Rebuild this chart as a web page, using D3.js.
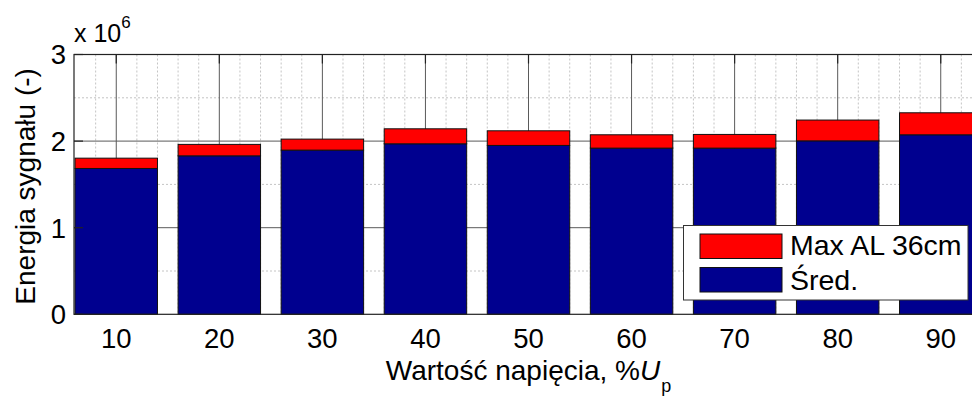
<!DOCTYPE html>
<html>
<head>
<meta charset="utf-8">
<script src="https://cdn.jsdelivr.net/npm/d3@7/dist/d3.min.js"></script>
<style>
  html, body { margin: 0; padding: 0; background: #fff; }
  svg { display: block; font-family: Arial, "Liberation Sans", sans-serif; }
</style>
</head>
<body>
<svg id="chart" width="972" height="396"></svg>
<script>
// Signal energy (×10^6) per voltage level, stacked: mean + extra for max AL 36cm
const categories = [10, 20, 30, 40, 50, 60, 70, 80, 90];
const sredValues = [1.684, 1.830, 1.896, 1.969, 1.950, 1.919, 1.919, 2.003, 2.073];
const maxExtraValues = [0.119, 0.132, 0.127, 0.173, 0.169, 0.154, 0.158, 0.240, 0.254];
const yTicks = [0, 1, 2, 3];
const yMinorTicks = [0.5, 1.5, 2.5];
const xMinorTicks = [8, 12, 14, 16, 18, 22, 24, 26, 28, 32, 34, 36, 38, 42, 44, 46, 48,
                     52, 54, 56, 58, 62, 64, 66, 68, 72, 74, 76, 78, 82, 84, 86, 88, 92];
const seriesNames = ["Max AL 36cm", "Śred."];
const seriesColors = { sred: "#00008f", max: "#ff0000" };

const svg = d3.select("#chart");
const W = 972, H = 396;
svg.append("rect").attr("width", W).attr("height", H).attr("fill", "#fff");

const plot = { left: 74, right: 983, top: 54.5, bottom: 314.3 };
const x = d3.scaleLinear().domain([5.9, 94.1]).range([plot.left, plot.right]);
const y = d3.scaleLinear().domain([0, 3]).range([plot.bottom, plot.top]);
const barHalf = 4; // bar width 0.8 of category spacing

const rows = categories.map((c, i) => ({ cat: c, sred: sredValues[i], max: maxExtraValues[i] }));
const stacked = d3.stack().keys(["sred", "max"])(rows);

const g = svg.append("g");

// minor grid (dotted)
g.selectAll(".xminor").data(xMinorTicks).join("line")
  .attr("x1", d => x(d)).attr("x2", d => x(d))
  .attr("y1", plot.top).attr("y2", plot.bottom)
  .attr("stroke", "#c4c4c4").attr("stroke-width", 1).attr("stroke-dasharray", "2,2");
g.selectAll(".yminor").data(yMinorTicks).join("line")
  .attr("x1", plot.left).attr("x2", plot.right)
  .attr("y1", d => y(d)).attr("y2", d => y(d))
  .attr("stroke", "#c4c4c4").attr("stroke-width", 1).attr("stroke-dasharray", "2,2");

// major grid (solid)
g.selectAll(".xmajor").data(categories).join("line")
  .attr("x1", d => x(d)).attr("x2", d => x(d))
  .attr("y1", plot.top).attr("y2", plot.bottom)
  .attr("stroke", "#5a5a5a").attr("stroke-width", 1);
g.selectAll(".ymajor").data(yTicks.slice(1, -1)).join("line")
  .attr("x1", plot.left).attr("x2", plot.right)
  .attr("y1", d => y(d)).attr("y2", d => y(d))
  .attr("stroke", "#5a5a5a").attr("stroke-width", 1);

// stacked bars
stacked.forEach(layer => {
  g.append("g").selectAll("rect").data(layer).join("rect")
    .attr("x", d => x(d.data.cat - barHalf))
    .attr("width", d => x(d.data.cat + barHalf) - x(d.data.cat - barHalf))
    .attr("y", d => y(d[1]))
    .attr("height", d => y(d[0]) - y(d[1]))
    .attr("fill", seriesColors[layer.key])
    .attr("stroke", "#111").attr("stroke-width", 1);
});

// axes frame
g.append("rect")
  .attr("x", plot.left).attr("y", plot.top)
  .attr("width", plot.right - plot.left).attr("height", plot.bottom - plot.top)
  .attr("fill", "none").attr("stroke", "#222").attr("stroke-width", 1.2);

// inward tick marks
const tickLen = 9;
g.selectAll(".xtickTop").data(categories).join("line")
  .attr("x1", d => x(d)).attr("x2", d => x(d))
  .attr("y1", plot.top).attr("y2", plot.top + tickLen)
  .attr("stroke", "#222").attr("stroke-width", 1.2);
g.selectAll(".ytickLeft").data(yTicks).join("line")
  .attr("x1", plot.left).attr("x2", plot.left + tickLen)
  .attr("y1", d => y(d)).attr("y2", d => y(d))
  .attr("stroke", "#222").attr("stroke-width", 1.2);

// tick labels
const fontSize = 27.5;
g.selectAll(".xlab").data(categories).join("text")
  .attr("x", d => x(d)).attr("y", 348)
  .attr("text-anchor", "middle").attr("font-size", fontSize).attr("fill", "#000")
  .text(d => d);
g.selectAll(".ylab").data(yTicks).join("text")
  .attr("x", 66).attr("y", d => y(d)).attr("dy", "0.36em")
  .attr("text-anchor", "end").attr("font-size", fontSize).attr("fill", "#000")
  .text(d => d);

// exponent label
const expo = g.append("text").attr("x", 74).attr("y", 42).attr("font-size", 25).attr("fill", "#000");
expo.append("tspan").text("x 10");
expo.append("tspan").attr("font-size", 17).attr("dy", -14).text("6");

// axis titles
g.append("text")
  .attr("transform", `translate(35,${(plot.top + plot.bottom) / 2 + 2}) rotate(-90)`)
  .attr("text-anchor", "middle").attr("font-size", 28).attr("fill", "#000")
  .text("Energia sygnału (-)");

const xt = g.append("text")
  .attr("x", (plot.left + plot.right) / 2).attr("y", 380)
  .attr("text-anchor", "middle").attr("font-size", 28).attr("fill", "#000");
xt.append("tspan").text("Wartość napięcia, %");
xt.append("tspan").attr("font-style", "italic").text("U");
xt.append("tspan").attr("font-size", 18).attr("dy", 12).attr("dx", 1).text("p");

// legend
const leg = g.append("g");
leg.append("rect")
  .attr("x", 683.5).attr("y", 225.5).attr("width", 284.5).attr("height", 74.5)
  .attr("fill", "#fff").attr("stroke", "#333").attr("stroke-width", 1);
const legItems = [
  { name: seriesNames[0], color: seriesColors.max, top: 234, base: 254.5 },
  { name: seriesNames[1], color: seriesColors.sred, top: 267.5, base: 289.5 }
];
legItems.forEach(it => {
  leg.append("rect")
    .attr("x", 700).attr("y", it.top).attr("width", 82).attr("height", 24.5)
    .attr("fill", it.color).attr("stroke", "#111").attr("stroke-width", 1);
  leg.append("text")
    .attr("x", 790).attr("y", it.base)
    .attr("font-size", 28.5).attr("fill", "#000")
    .text(it.name);
});
</script>
</body>
</html>
